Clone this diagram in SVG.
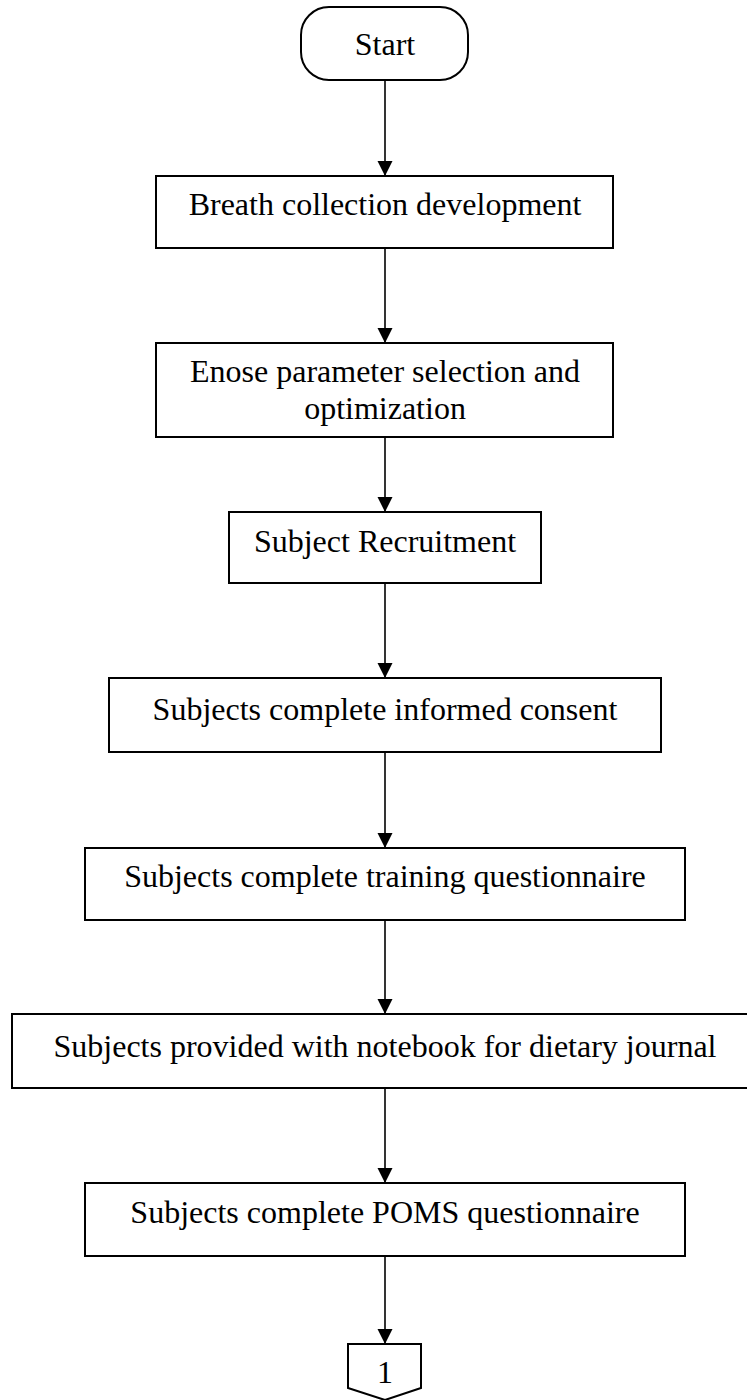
<svg xmlns="http://www.w3.org/2000/svg" width="747" height="1400" viewBox="0 0 747 1400">
<defs>
<style>
.box{fill:#fff;stroke:#000;stroke-width:2}
.lbl{font-family:"Liberation Serif","Times New Roman",serif;font-size:32px;fill:#000;text-anchor:middle}
.edge{stroke:#000;stroke-width:1.6;fill:none;marker-end:url(#arr)}
</style>
<marker id="arr" markerUnits="userSpaceOnUse" markerWidth="16" markerHeight="16" refX="15" refY="7.5" orient="auto">
<path d="M0,0 L15,7.5 L0,15 Z" fill="#000"/>
</marker>
</defs>
<rect width="747" height="1400" fill="#fff"/>
<g id="connectors">
<line class="edge" x1="385" y1="80" x2="385" y2="176"/>
<line class="edge" x1="385" y1="248" x2="385" y2="343"/>
<line class="edge" x1="385" y1="437" x2="385" y2="512"/>
<line class="edge" x1="385" y1="583" x2="385" y2="678"/>
<line class="edge" x1="385" y1="752" x2="385" y2="848"/>
<line class="edge" x1="385" y1="920" x2="385" y2="1014"/>
<line class="edge" x1="385" y1="1088" x2="385" y2="1183"/>
<line class="edge" x1="385" y1="1256" x2="385" y2="1344"/>
</g>
<g id="start">
<rect class="box" x="301" y="7" width="167" height="73" rx="28" ry="28"/>
<text class="lbl" x="385" y="55">Start</text>
</g>
<g id="breath">
<rect class="box" x="156" y="176" width="457" height="72"/>
<text class="lbl" x="385" y="215">Breath collection development</text>
</g>
<g id="enose">
<rect class="box" x="156" y="343" width="457" height="94"/>
<text class="lbl" x="385" y="382">Enose parameter selection and</text>
<text class="lbl" x="385" y="419">optimization</text>
</g>
<g id="recruit">
<rect class="box" x="229" y="512" width="312" height="71"/>
<text class="lbl" x="385" y="552">Subject Recruitment</text>
</g>
<g id="consent">
<rect class="box" x="109" y="678" width="552" height="74"/>
<text class="lbl" x="385" y="720">Subjects complete informed consent</text>
</g>
<g id="training">
<rect class="box" x="85" y="848" width="600" height="72"/>
<text class="lbl" x="385" y="887">Subjects complete training questionnaire</text>
</g>
<g id="notebook">
<rect class="box" x="12" y="1014" width="750" height="74"/>
<text class="lbl" x="385" y="1057">Subjects provided with notebook for dietary journal</text>
</g>
<g id="poms">
<rect class="box" x="85" y="1183" width="600" height="73"/>
<text class="lbl" x="385" y="1223">Subjects complete POMS questionnaire</text>
</g>
<g id="offpage1">
<path class="box" d="M348,1344 L421,1344 L421,1388 L385,1400 L348,1388 Z"/>
<text class="lbl" x="385" y="1383">1</text>
</g>
</svg>
